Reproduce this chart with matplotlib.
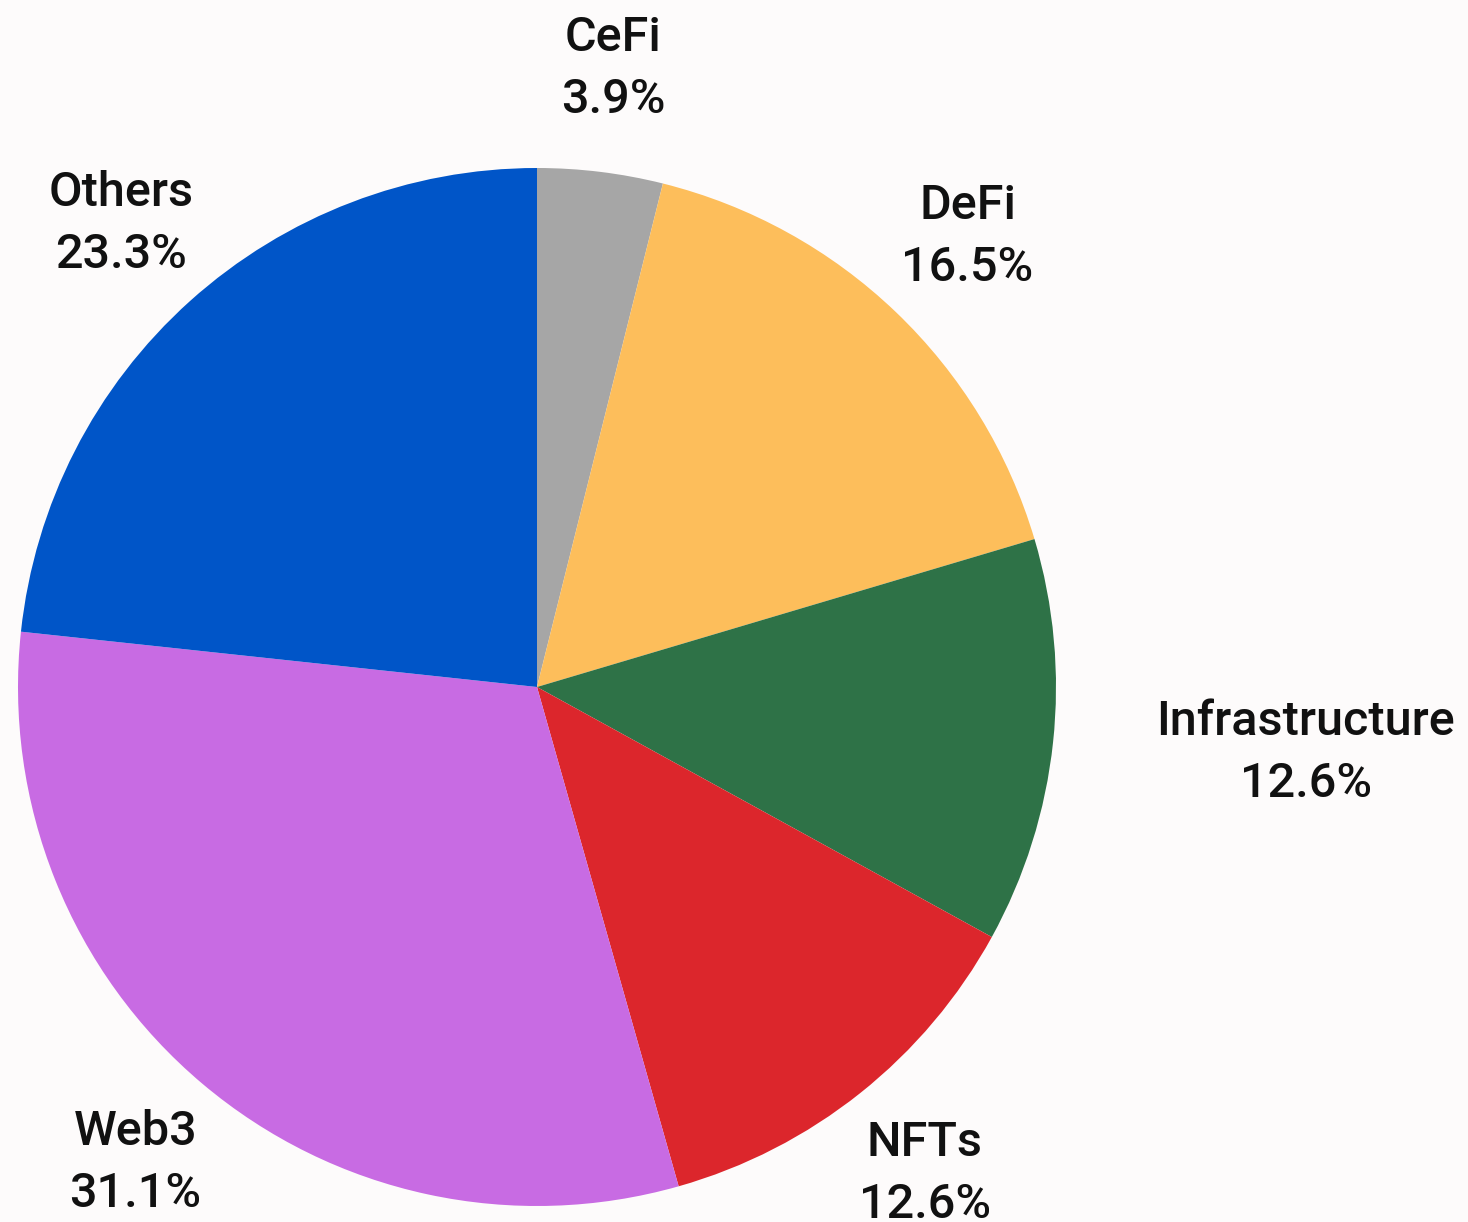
import matplotlib
matplotlib.use('Agg')
import matplotlib.pyplot as plt

# Data
sectors = ['CeFi', 'DeFi', 'Infrastructure', 'NFTs', 'Web3', 'Others']
shares = [3.9, 16.5, 12.6, 12.6, 31.1, 23.3]
colors = ['#a6a6a6', '#fdbe5b', '#2e7247', '#dc262c', '#c86be3', '#0055c8']

bg = '#fdfbfb'

fig = plt.figure(figsize=(14.68, 12.22), dpi=100, facecolor=bg)
ax = fig.add_axes([0, 0, 1, 1])
ax.set_facecolor(bg)

labels = [s + '\n' + f'{v:.1f}%' for s, v in zip(sectors, shares)]

wedges, texts = ax.pie(shares, colors=colors, labels=labels, startangle=90,
                       counterclock=False, labeldistance=1.2, radius=1.0,
                       wedgeprops=dict(linewidth=0),
                       textprops=dict(fontsize=35, fontfamily='Roboto',
                                      fontweight='medium', color='#111111',
                                      linespacing=1.45))

for t in texts:
    t.set_multialignment('center')
    t.set_verticalalignment('center')
    if t.get_text().startswith('Infrastructure'):
        t.set_horizontalalignment('left')
    else:
        t.set_horizontalalignment('center')

# map pixel layout: centre at (537, 687), radius 519 px
r_px = 519
ax.set_xlim(-537 / r_px, (1468 - 537) / r_px)
ax.set_ylim((687 - 1222) / r_px, 687 / r_px)
ax.set_aspect('auto')
ax.axis('off')

fig.savefig('out.png', dpi=100, facecolor=bg)
